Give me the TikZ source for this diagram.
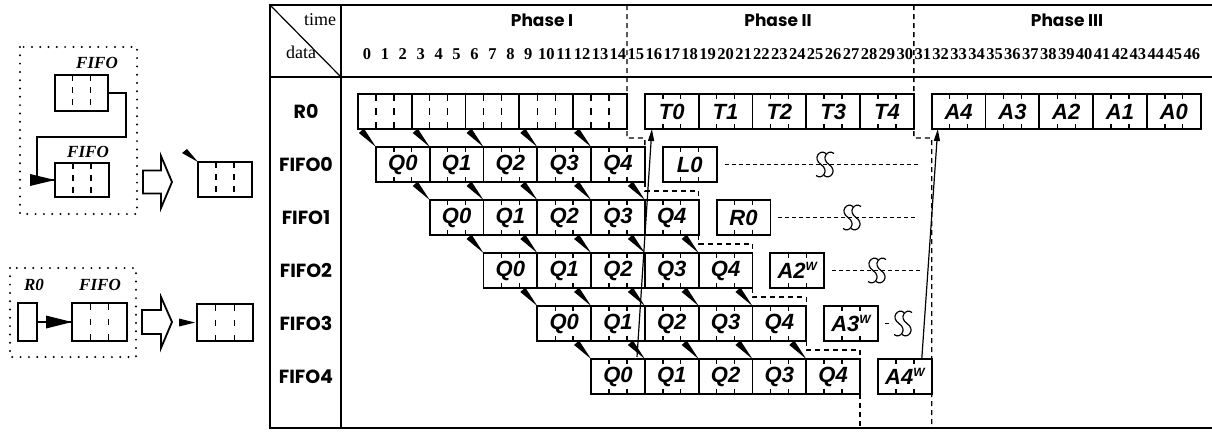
\documentclass[tikz,border=0pt]{standalone}
\usepackage{fontspec}
\setmainfont{Liberation Serif}
\newfontfamily\gothic{Poppins}
\newfontfamily\cellfont{Liberation Sans}
\usetikzlibrary{arrows.meta,calc}

% time axis: left edge of slot 0 and width of one time step
\def\XO{358}
\def\U{17.93}

% labelled slot box with its two tick marks at top and bottom
\newcommand\qcell[4]{%
  \node[cellbox] (#1) at ({\XO+\U*(#2+1.5)},{#3}) {#4};
  \draw[tick] ($(#1.north west)+(\U,0)$) -- ++(0,5);
  \draw[tick] ($(#1.north west)+(2*\U,0)$) -- ++(0,5);
  \draw[tick] ($(#1.south west)+(\U,0)$) -- ++(0,-5);
  \draw[tick] ($(#1.south west)+(2*\U,0)$) -- ++(0,-5);
}
% empty slot box with dashed dividers
\newcommand\ecell[3]{%
  \node[cellbox] (#1) at ({\XO+\U*(#2+1.5)},{#3}) {};
  \draw[divider] ($(#1.north west)+(\U,0)$) -- ($(#1.south west)+(\U,0)$);
  \draw[divider] ($(#1.north west)+(2*\U,0)$) -- ($(#1.south west)+(2*\U,0)$);
}
% wedge feeding a FIFO slot at its top-left corner
\newcommand\feed[1]{\fill (#1.north west) -- ++(-12,-18.5) -- ++(-5,4.5) -- cycle;}
% break mark on a waiting line: two S strokes
\newcommand\squig[2]{%
  \foreach \sq in {0,8}{%
    \draw[line width=1.2pt] ({#1+\sq+5},{#2-11}) .. controls ({#1+\sq-1},{#2-16}) and ({#1+\sq-9},{#2-6}) .. ({#1+\sq},{#2})
      .. controls ({#1+\sq+9},{#2+6}) and ({#1+\sq+1},{#2+16}) .. ({#1+\sq-5},{#2+11});}%
}
\newcommand\wsup{\raisebox{8pt}{\fontsize{12}{12}\selectfont W}}

\begin{document}
\begin{tikzpicture}[x=1pt,y=-1pt,
  frame/.style={line width=1.6pt},
  cellbox/.style={draw,line width=1.8pt,minimum width=53.8pt,minimum height=35pt,inner sep=0pt,outer sep=0pt,
    font=\cellfont\bfseries\itshape\fontsize{22}{22}\selectfont},
  tick/.style={line width=1.4pt},
  divider/.style={line width=1.4pt,dash pattern=on 7pt off 7pt},
  phase/.style={line width=1.4pt,dash pattern=on 5pt off 4pt},
  gap/.style={line width=1.1pt,dash pattern=on 4pt off 3pt},
  longarrow/.style={line width=1.2pt,-{Triangle[length=12pt,width=6pt]}},
  rowlabel/.style={font=\gothic\bfseries\fontsize{19}{19}\selectfont},
  phaselabel/.style={font=\gothic\bfseries\fontsize{17}{17}\selectfont},
  numlabel/.style={font=\bfseries\fontsize{16.5}{16.5}\selectfont,inner sep=0pt},
  legbox/.style={draw,line width=2.2pt,inner sep=0pt,outer sep=0pt},
  legline/.style={line width=1.8pt},
  leglabel/.style={font=\bfseries\itshape\fontsize{17}{17}\selectfont},
  dotframe/.style={line width=2.2pt,line cap=round,dash pattern=on 0pt off 8.3pt},
  hollow/.style={line width=1.8pt,line join=miter}
]
\fill[white] (0,0) rectangle (1212,431);
\useasboundingbox (0,0) rectangle (1212,431);

% ---------- legend: FIFO feeding FIFO ----------
\draw[dotframe] (20,47) rectangle (137,214);
\node[leglabel] at (97,63) {FIFO};
\node[legbox,minimum width=53pt,minimum height=36pt] (lgA) at (81.5,93) {};
\node[leglabel] at (88,152) {FIFO};
\node[legbox,minimum width=54pt,minimum height=34pt] (lgB) at (82,180) {};
\foreach \n in {lgA,lgB}{
  \draw[divider,dash pattern=on 6pt off 6pt] ($(\n.north west)!1/3!(\n.north east)$) -- ($(\n.south west)!1/3!(\n.south east)$);
  \draw[divider,dash pattern=on 6pt off 6pt] ($(\n.north west)!2/3!(\n.north east)$) -- ($(\n.south west)!2/3!(\n.south east)$);
}
\draw[legline] (lgA.east) -| (126,137) -| (37,180) -- (lgB.west);
\fill (lgB.west) -- ++(-25,-6) -- ++(0,12) -- cycle;
\draw[hollow] (143,170.5) -- (161,170.5) -- (161,156) -- (172,182) -- (161,208) -- (161,193.5) -- (143,193.5) -- cycle;
\node[legbox,minimum width=54pt,minimum height=35pt] (lgC) at (225,179.5) {};
\draw[divider,dash pattern=on 6pt off 6pt] ($(lgC.north west)!1/3!(lgC.north east)$) -- ($(lgC.south west)!1/3!(lgC.south east)$);
\draw[divider,dash pattern=on 6pt off 6pt] ($(lgC.north west)!2/3!(lgC.north east)$) -- ($(lgC.south west)!2/3!(lgC.south east)$);
\fill (lgC.north west) -- ++(-11,-13) -- ++(-5,4) -- cycle;

% ---------- legend: register feeding FIFO ----------
\draw[dotframe] (10,268) rectangle (136,357);
\node[leglabel] at (34,285) {R0};
\node[leglabel] at (100,285) {FIFO};
\node[legbox,minimum width=19pt,minimum height=38pt] (lgR) at (27.5,322) {};
\node[legbox,minimum width=55pt,minimum height=38pt] (lgF) at (99.5,322) {};
\draw[divider,dash pattern=on 6.5pt off 9pt] ($(lgF.north west)!1/3!(lgF.north east)$) -- ($(lgF.south west)!1/3!(lgF.south east)$);
\draw[divider,dash pattern=on 6.5pt off 9pt] ($(lgF.north west)!2/3!(lgF.north east)$) -- ($(lgF.south west)!2/3!(lgF.south east)$);
\draw[legline] (lgR.east) -- (lgF.west);
\fill (lgF.west) -- ++(-26,-6.5) -- ++(0,13) -- cycle;
\draw[hollow] (142,310) -- (161,310) -- (161,297) -- (172,322) -- (161,348) -- (161,334) -- (142,334) -- cycle;
\node[legbox,minimum width=56pt,minimum height=37pt] (lgG) at (225,322.5) {};
\draw[divider,dash pattern=on 6.5pt off 9pt] ($(lgG.north west)!1/3!(lgG.north east)$) -- ($(lgG.south west)!1/3!(lgG.south east)$);
\draw[divider,dash pattern=on 6.5pt off 9pt] ($(lgG.north west)!2/3!(lgG.north east)$) -- ($(lgG.south west)!2/3!(lgG.south east)$);
\fill ($(lgG.west)+(-2,0)$) -- ++(-16,-4) -- ++(0,8) -- cycle;

% ---------- table frame ----------
\draw[frame] (1212,5) -- (270,5) -- (270,428) -- (1212,428);
\draw[frame] (341,5) -- (341,428);
\draw[frame] (270,77) -- (1212,77);
\draw[line width=1.2pt] (270,5) -- (341,77);
\node[font=\fontsize{18}{18}\selectfont] at (320,20) {time};
\node[font=\fontsize{18}{18}\selectfont] at (301,52) {data};
\node[phaselabel] at (542,20) {Phase I};
\node[phaselabel] at (778,20) {Phase II};
\node[phaselabel] at (1067,20) {Phase III};
\foreach \t in {0,...,46}
  \node[numlabel] at ({\XO+\U*(\t+0.5)},54) {\t};

% row names
\node[rowlabel] at (306,111.5) {R0};
\foreach \k in {0,...,4}
  \node[rowlabel] at (306,{164.5+53*\k}) {FIFO\k};

% ---------- register R0 ----------
\foreach \i in {0,...,4}{\ecell{r\i}{3*\i}{111.5}}
\foreach \i in {0,...,4}{\qcell{t\i}{16+3*\i}{111.5}{T\i}}
\foreach \i/\lab in {0/4,1/3,2/2,3/1,4/0}{\qcell{a\lab}{32+3*\i}{111.5}{A\lab}}

% ---------- FIFO rows ----------
\foreach \k in {0,...,4}{
  \foreach \j in {0,...,4}{
    \qcell{f\k\j}{1+3*\k+3*\j}{164.5+53*\k}{Q\j}
    \feed{f\k\j}
  }
}
\qcell{l0}{17}{164.5}{L0}
\qcell{rr}{20}{217.5}{R0}
\qcell{a2w}{23}{270.5}{A2\wsup}
\qcell{a3w}{26}{323.5}{A3\wsup}
\qcell{a4w}{29}{376.5}{A4\wsup}

% ---------- phase boundaries ----------
\draw[phase] ({\XO+15*\U},5) -- ($(r4.south east)+(0,9)$) -| (f04.north east);
\foreach \k/\n in {0/1,1/2,2/3,3/4}
  \draw[phase] (f\k4.south east) -- ++(0,9) -| (f\n4.north east);
\draw[phase] (f44.south east) -- ++(0,34);
\draw[phase] ({\XO+31*\U},5) -- ($(t4.south east)+(0,9)$) -| ($(a4w.south east)+(0,34)$);

% ---------- waiting lines ----------
\draw[gap] ($(l0.east)+(8,0)$) -- (920,164.5);
\squig{821}{164.5}
\draw[gap] ($(rr.east)+(8,0)$) -- (918,217.5);
\squig{848}{217.5}
\draw[gap] ($(a2w.east)+(8,0)$) -- (922,270.5);
\squig{873}{270.5}
\draw[gap] ($(a3w.east)+(7,0)$) -- ++(7,0);
\squig{899}{323.5}

% ---------- transfers back into R0 ----------
\coordinate (q4out) at (637,357);
\draw[longarrow] (q4out) -- ($(t0.south west)+(7,0)$);
\draw[longarrow] ($(a4w.north east)+(-10,0)$) -- ($(a4.south west)+(6,0)$);
\end{tikzpicture}
\end{document}
